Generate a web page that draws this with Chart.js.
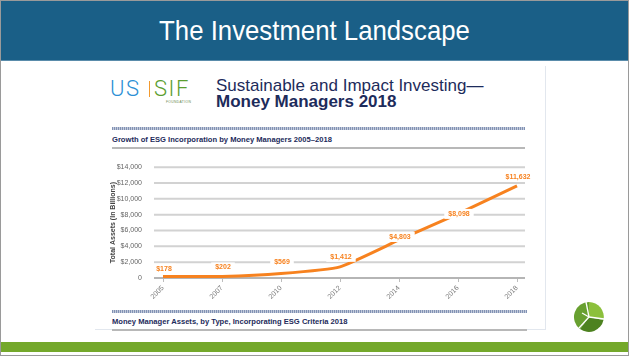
<!DOCTYPE html>
<html><head><meta charset="utf-8">
<script src="https://cdn.jsdelivr.net/npm/chart.js@4.4.1/dist/chart.umd.min.js"></script>
<style>
html,body{margin:0;padding:0;background:#fff;}
#slide{position:relative;width:629px;height:356px;overflow:hidden;background:#fff;font-family:"Liberation Sans",Arial,sans-serif;}
.abs{position:absolute;}
#frame{left:0;top:0;width:627px;height:354px;border:1px solid #9a9a9a;}
#header{left:1px;top:1px;width:627px;height:59px;background:#1a5f87;border-bottom:1px solid #5a8cab;}
#htitle{left:0;top:15px;width:629px;text-align:center;color:#fff;font-size:28px;line-height:32px;transform:scaleX(0.92);white-space:nowrap;}
#panel{left:95px;top:66px;width:450px;height:263px;border-right:1px solid #e2e7ee;border-bottom:1px solid #e2e7ee;}
.logo{font-family:Roboto,"Open Sans",sans-serif;font-weight:300;font-size:22px;line-height:22px;white-space:nowrap;letter-spacing:1.5px;}
#t1{left:216px;top:76px;color:#1d2b5b;font-size:17px;line-height:20px;white-space:nowrap;}
#t2{left:216px;top:92px;color:#1d2b5b;font-size:17px;line-height:20px;font-weight:bold;white-space:nowrap;}
.hatch{height:3px;background:repeating-linear-gradient(90deg,#8292b4 0 1px,#c3cbdb 1px 2px);}
.sub{color:#1d2b5b;font-size:7.6px;line-height:9px;font-weight:bold;white-space:nowrap;}
.grayline{height:2px;background:#b8b8b8;}
#green{left:1px;top:342px;width:627px;height:10px;background:#74a82b;}
#chartBox{left:100px;top:150px;width:446px;height:160px;}
</style></head>
<body>
<div id="slide">
  <div id="frame" class="abs"></div>
  <div id="header" class="abs"></div>
  <div id="htitle" class="abs">The Investment Landscape</div>
  <div id="panel" class="abs"></div>

  <div class="abs logo" style="left:110px;top:78px;color:#2b8fd5;">US</div>
  <div class="abs" style="left:149px;top:81px;width:1px;height:16px;background:#f39a2e;"></div>
  <div class="abs logo" style="left:154px;top:78px;color:#5b9e30;">SIF</div>
  <div class="abs" style="left:166px;top:100px;font-size:3.4px;line-height:4px;color:#6a8a50;letter-spacing:0.3px;white-space:nowrap;">FOUNDATION</div>

  <div id="t1" class="abs">Sustainable and Impact Investing—</div>
  <div id="t2" class="abs">Money Managers 2018</div>

  <div class="abs hatch" style="left:112px;top:127px;width:413px;"></div>
  <div class="abs sub" style="left:112px;top:135px;">Growth of ESG Incorporation by Money Managers 2005–2018</div>
  <div class="abs grayline" style="left:112px;top:147px;width:413px;"></div>

  <div id="chartBox" class="abs"><canvas id="c" width="446" height="160"></canvas></div>

  <div class="abs hatch" style="left:112px;top:310px;width:415px;"></div>
  <div class="abs sub" style="left:112px;top:317px;">Money Manager Assets, by Type, Incorporating ESG Criteria 2018</div>
  <div class="abs grayline" style="left:112px;top:329px;width:415px;"></div>

  <div id="green" class="abs"></div>

  <svg class="abs" style="left:573px;top:301px;" width="32" height="32" viewBox="0 0 32 32">
    <path d="M16 16 L16 1 A15 15 0 0 1 30.5 19 Z" fill="#8cc03c"/>
    <path d="M16 16 L30.5 19 A15 15 0 0 1 7 28 Z" fill="#4d8220"/>
    <path d="M16 16 L7 28 A15 15 0 0 1 16 1 Z" fill="#68a030"/>
    <g stroke="#fff" stroke-width="1.3">
      <line x1="16" y1="16" x2="13" y2="1"/>
      <line x1="16" y1="16" x2="31" y2="18"/>
      <line x1="16" y1="16" x2="6" y2="27"/>
      <line x1="16" y1="16" x2="9" y2="12"/>
    </g>
  </svg>
</div>
<script>
const years = ['2005', '2007', '2010', '2012', '2014', '2016', '2018'];
const assets = [178, 202, 569, 1412, 4803, 8098, 11632];
const yTickValues = [0, 2000, 4000, 6000, 8000, 10000, 12000, 14000];
const yAxisTitle = 'Total Assets (In Billions)';

const fmt = v => '$' + v.toLocaleString('en-US');
const FONT = '"Liberation Sans", Arial, sans-serif';

const extGrid = {
  id: 'extGrid',
  beforeDatasetsDraw(chart) {
    const {ctx, chartArea: a, scales: {y}} = chart;
    ctx.save();
    y.ticks.forEach(t => {
      const py = y.getPixelForValue(t.value);
      ctx.strokeStyle = t.value === 0 ? '#b5b5b5' : '#d2d2d2';
      ctx.lineWidth = 2;
      ctx.beginPath();
      ctx.moveTo(a.left - 9, py);
      ctx.lineTo(a.right + 8, py);
      ctx.stroke();
    });
    ctx.restore();
  }
};

const valueLabels = {
  id: 'valueLabels',
  afterDatasetsDraw(chart, args, opts) {
    const {ctx} = chart;
    const meta = chart.getDatasetMeta(0);
    const data = chart.data.datasets[0].data;
    ctx.save();
    ctx.font = 'bold 7px ' + FONT;
    ctx.textAlign = 'center';
    ctx.textBaseline = 'middle';
    meta.data.forEach((pt, i) => {
      const txt = fmt(data[i]);
      const w = ctx.measureText(txt).width + 8;
      const h = 10;
      const cx = pt.x + 1;
      const cy = pt.y + opts.offsets[i];
      ctx.fillStyle = '#ffffff';
      ctx.fillRect(cx - w / 2, cy - h / 2, w, h);
      ctx.fillStyle = '#f7821f';
      ctx.fillText(txt, cx, cy);
    });
    ctx.restore();
  }
};

new Chart(document.getElementById('c'), {
  type: 'line',
  data: {
    labels: years,
    datasets: [{
      data: assets,
      borderColor: '#f7821f',
      borderWidth: 3,
      pointRadius: 0,
      tension: 0.15,
      fill: false,
      clip: false
    }]
  },
  options: {
    responsive: false,
    animation: false,
    devicePixelRatio: 1,
    layout: {padding: {top: 10, right: 29, left: 0, bottom: 0}},
    plugins: {
      legend: {display: false},
      tooltip: {enabled: false},
      valueLabels: {offsets: [-8, -9, -11, -10, -3, 0, -9]}
    },
    scales: {
      x: {
        type: 'category',
        offset: false,
        grid: {display: true, drawOnChartArea: false, drawTicks: true, tickLength: 4, color: '#bdbdbd', lineWidth: 1},
        border: {display: false},
        ticks: {minRotation: 45, maxRotation: 45, autoSkip: false, padding: 2, color: '#7a7a7a', font: {size: 7, family: FONT}},
        afterFit: s => { s.height = 32; }
      },
      y: {
        min: 0,
        max: 14000,
        grid: {display: false},
        border: {display: false},
        afterBuildTicks: s => { s.ticks = yTickValues.map(v => ({value: v})); },
        ticks: {
          padding: 13,
          color: '#666',
          font: {size: 7, family: FONT},
          callback: v => v === 0 ? '0' : fmt(v)
        },
        title: {
          display: true,
          text: yAxisTitle,
          color: '#444',
          font: {size: 7, weight: 'bold', family: FONT},
          padding: {top: 9, bottom: 0}
        },
        afterFit: s => { s.width = 63; }
      }
    }
  },
  plugins: [extGrid, valueLabels]
});
</script>
</body></html>
